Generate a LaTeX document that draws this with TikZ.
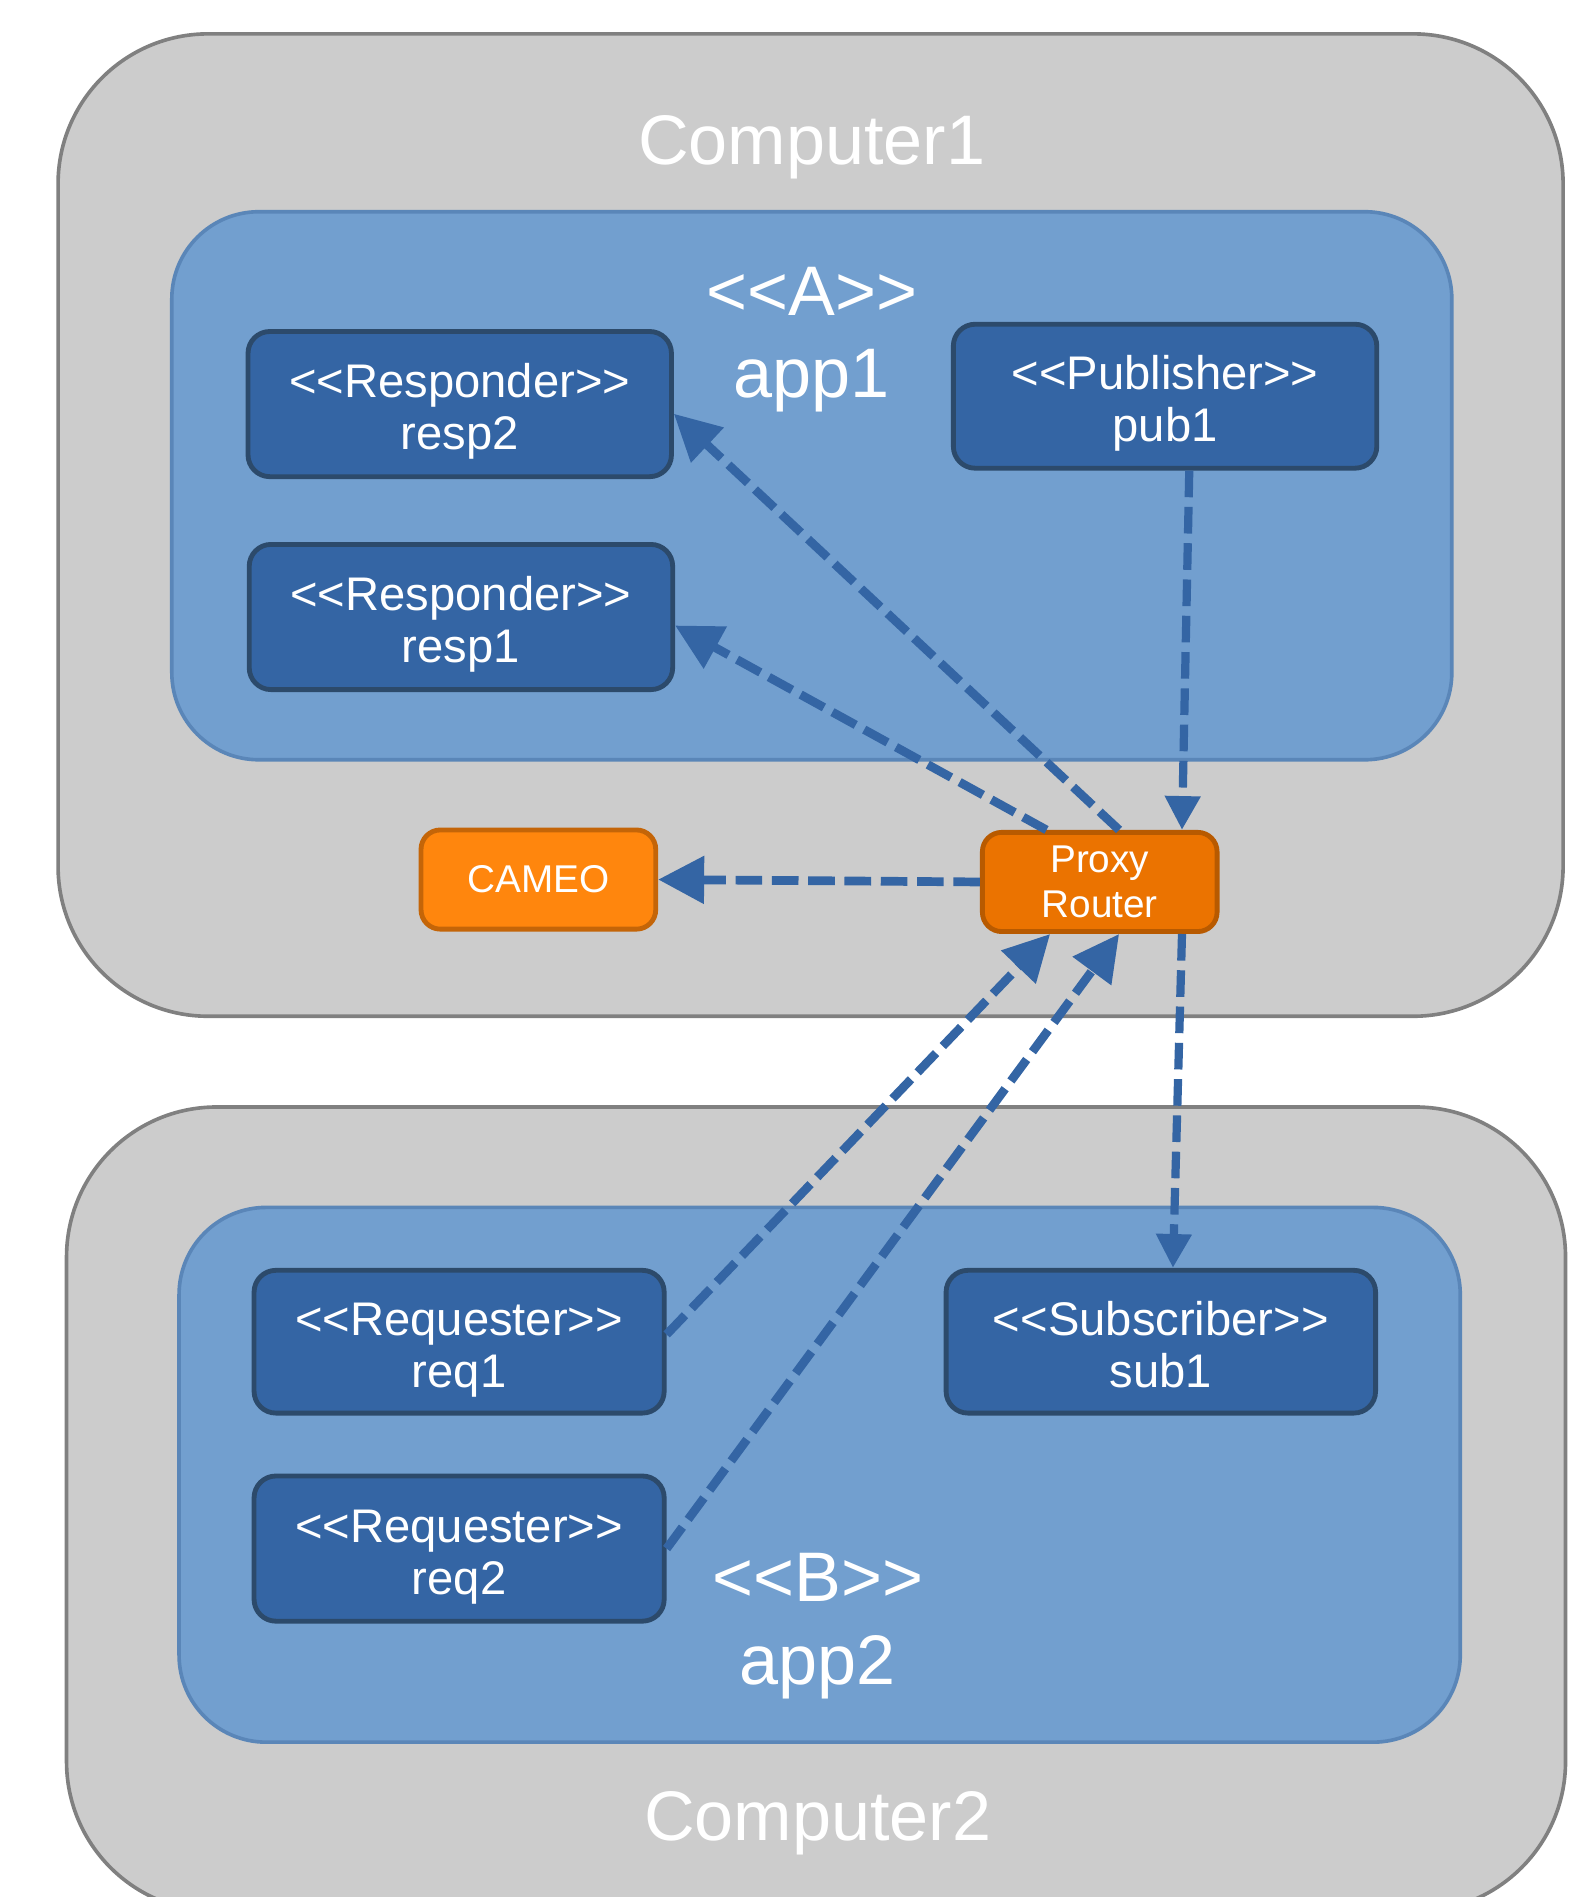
\documentclass[tikz,border=0pt]{standalone}
\usepackage{fontspec}
\setmainfont{Liberation Sans}
\usetikzlibrary{arrows.meta}
\definecolor{hostfill}{HTML}{CCCCCC}
\definecolor{hostline}{HTML}{808080}
\definecolor{appfill}{HTML}{729FCF}
\definecolor{appline}{HTML}{5A86B8}
\definecolor{compfill}{HTML}{3465A4}
\definecolor{compline}{HTML}{2C4A6B}
\definecolor{cameofill}{HTML}{FF860D}
\definecolor{cameoline}{HTML}{C46508}
\definecolor{proxyfill}{HTML}{EB7300}
\definecolor{proxyline}{HTML}{B85A00}
\definecolor{flow}{HTML}{3465A4}
% two-line component caption with fixed line height and depth
\newcommand\stereo[2]{\rule{0pt}{21.2pt}<{}<#1>{}>\\#2\rule[-5pt]{0pt}{5pt}}
\begin{document}
\begin{tikzpicture}[x=0.5pt,y=-0.5pt,
  host/.style={draw=hostline, fill=hostfill, line width=1.5pt, rounded corners=62pt},
  app/.style={draw=appline, fill=appfill, line width=1.5pt, rounded corners=36pt},
  bigtext/.style={text=white, font=\fontsize{29}{34}\selectfont, inner sep=0pt, align=center},
  comp/.style={draw=compline, fill=compfill, line width=2pt, rounded corners=9pt,
    text=white, font=\fontsize{19.5}{21.5}\selectfont, align=center, inner sep=0pt},
  orangebox/.style={line width=2pt, rounded corners=8pt, text=white,
    font=\fontsize{16}{18.5}\selectfont, align=center, inner sep=0pt,
    minimum width=97pt, minimum height=41pt},
  flowarrow/.style={draw=flow, line width=3.6pt, dash pattern=on 11pt off 4pt,
    -{Triangle[length=19pt,width=19pt]}},
  thinflow/.style={draw=flow, line width=3.4pt, dash pattern=on 11pt off 4pt,
    -{Triangle[length=14pt,width=14pt]}}
]
\clip (0,0) rectangle (1297,1568);

% hosts
\draw[host] (48,28) rectangle (1292,840);
\draw[host] (55,915) rectangle (1294,1580);
\node[bigtext, anchor=base] (c1label) at (671,136) {Computer1};
\node[bigtext, anchor=base] (c2label) at (676,1521) {Computer2};

% applications
\draw[app] (142,175) rectangle (1200,628);
\draw[app] (148,998) rectangle (1207,1440);
\node[bigtext] (app1label) at (671,281) {<{}<A>{}>\\app1};
\node[bigtext] (app2label) at (676,1344) {<{}<B>{}>\\app2};

% components of app1
\node[comp, minimum width=175pt, minimum height=60pt] (resp2) at (380,334) {\stereo{Responder}{resp2}};
\node[comp, minimum width=175pt, minimum height=60pt] (resp1) at (381,510) {\stereo{Responder}{resp1}};
\node[comp, minimum width=175pt, minimum height=59.5pt] (pub1) at (963,327.5) {\stereo{Publisher}{pub1}};

% components of app2
\node[comp, minimum width=169.5pt, minimum height=59pt] (req1) at (379.5,1109) {\stereo{Requester}{req1}};
\node[comp, minimum width=169.5pt, minimum height=60pt] (req2) at (379.5,1280) {\stereo{Requester}{req2}};
\node[comp, minimum width=177.5pt, minimum height=59pt] (sub1) at (959.5,1109) {\stereo{Subscriber}{sub1}};

% infrastructure
\node[orangebox, draw=cameoline, fill=cameofill] (cameo) at (445,727) {CAMEO};
\node[orangebox, draw=proxyline, fill=proxyfill] (proxy) at (909,729) {Proxy\\Router};

% message flows
\draw[flowarrow] ([xshift=8pt]proxy.north) -- ([yshift=-4pt]resp2.east);
\draw[flowarrow] ([xshift=-22pt]proxy.north) -- ([yshift=-3.5pt]resp1.east);
\draw[thinflow] ([xshift=10pt]pub1.south) -- ([xshift=34pt]proxy.north);
\draw[flowarrow] (proxy.west) -- (cameo.east);
\draw[flowarrow] ([yshift=3pt]req1.east) -- ([xshift=-20.5pt]proxy.south);
\draw[flowarrow] (req2.east) -- ([xshift=8pt]proxy.south);
\draw[thinflow] ([xshift=34pt]proxy.south) -- ([xshift=5pt]sub1.north);
\end{tikzpicture}
\end{document}
